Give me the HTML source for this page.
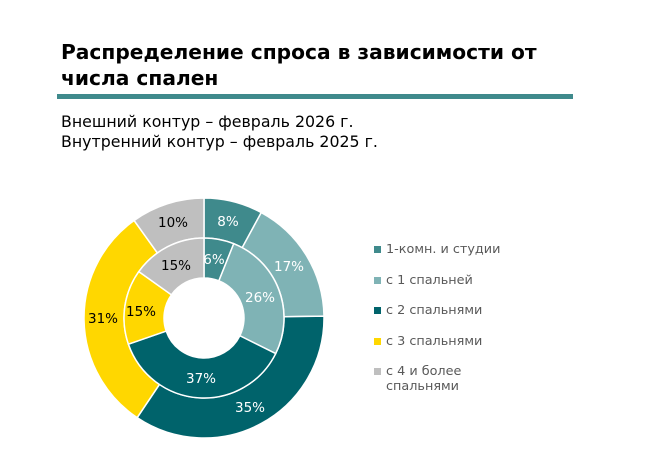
<!DOCTYPE html><html><head><meta charset="utf-8"><style>
body{margin:0;width:646px;height:474px;background:#fff;font-family:"DejaVu Sans","Liberation Sans",sans-serif;position:relative;overflow:hidden}
.t{position:absolute;left:61px;top:39px;font-size:20.2px;font-weight:bold;line-height:26px;color:#000}
.bar{position:absolute;left:57px;top:94px;width:516px;height:5px;background:#3f8a8c}
.s{position:absolute;left:61px;top:112px;font-size:15.8px;line-height:20px;color:#000}
.lg{position:absolute;left:374px;font-size:12.8px;color:#595959;line-height:15px}
.lg i{position:absolute;left:0;top:4px;width:7px;height:7px}
.lg span{margin-left:12px;display:block}
</style></head><body>
<div class="t">Распределение спроса в зависимости от<br>числа спален</div>
<div class="bar"></div>
<div class="s">Внешний контур – февраль 2026 г.<br>Внутренний контур – февраль 2025 г.</div>
<svg id="c" width="646" height="474" style="position:absolute;left:0;top:0" font-family="DejaVu Sans, Liberation Sans, sans-serif" font-size="13.5" text-anchor="middle">
<g id="g"></g>
<g fill="#fff">
<text x="228" y="226">8%</text><text x="289" y="271">17%</text><text x="250" y="412">35%</text>
<text x="214" y="264">6%</text><text x="260" y="302">26%</text><text x="201" y="383">37%</text>
</g>
<g fill="#000">
<text x="103" y="323">31%</text><text x="173" y="227">10%</text><text x="141" y="316">15%</text><text x="176" y="270">15%</text>
</g>
</svg>
<div class="lg" style="top:242px"><i style="background:#3f8a8c"></i><span>1-комн. и студии</span></div>
<div class="lg" style="top:273px"><i style="background:#7fb3b5"></i><span>с 1 спальней</span></div>
<div class="lg" style="top:303px"><i style="background:#00636b"></i><span>с 2 спальнями</span></div>
<div class="lg" style="top:334px"><i style="background:#ffd700"></i><span>с 3 спальнями</span></div>
<div class="lg" style="top:364px"><i style="background:#bfbfbf"></i><span>с 4 и более<br>спальнями</span></div>
<script>
var cols=["#3f8a8c","#7fb3b5","#00636b","#ffd700","#bfbfbf"],cx=204,cy=318,g=document.getElementById("g");
function ring(v,r0,r1){var t=v.reduce((a,b)=>a+b,0),a=0;v.forEach(function(x,i){var a0=a/t*2*Math.PI,a1=(a+x)/t*2*Math.PI;a+=x;
function p(r,an){return (cx+r*Math.sin(an)).toFixed(2)+","+(cy-r*Math.cos(an)).toFixed(2)}
var l=(a1-a0)>Math.PI?1:0;
var d="M"+p(r1,a0)+"A"+r1+","+r1+" 0 "+l+" 1 "+p(r1,a1)+"L"+p(r0,a1)+"A"+r0+","+r0+" 0 "+l+" 0 "+p(r0,a0)+"Z";
var e=document.createElementNS("http://www.w3.org/2000/svg","path");e.setAttribute("d",d);e.setAttribute("fill",cols[i]);e.setAttribute("stroke","#fff");e.setAttribute("stroke-width","1.5");g.appendChild(e);});}
ring([8,17,35,31,10],80,120);ring([6,26,37,15,15],40,80);
</script>
</body></html>
